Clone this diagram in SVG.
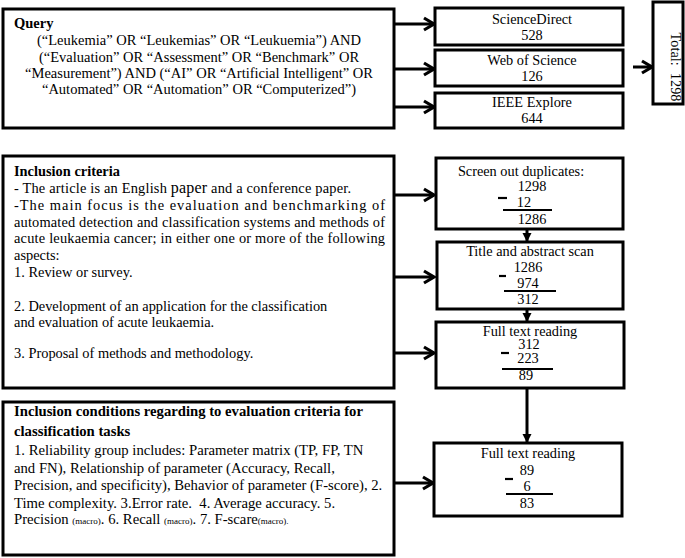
<svg xmlns="http://www.w3.org/2000/svg" width="685" height="558" viewBox="0 0 685 558" font-family="'Liberation Serif', 'Times New Roman', Tinos, 'Nimbus Roman', 'DejaVu Serif', serif">
<defs>
<marker id="chev" markerUnits="userSpaceOnUse" markerWidth="14" markerHeight="16" refX="11" refY="7" orient="auto" overflow="visible">
<path d="M1,1 L11,7 L1,13" fill="none" stroke="#000" stroke-width="3.2"/>
</marker>
<marker id="tri" markerUnits="userSpaceOnUse" markerWidth="10" markerHeight="10" refX="8" refY="4.5" orient="auto" overflow="visible">
<path d="M0,0 L9,4.5 L0,9 Z" fill="#000"/>
</marker>
<style>
.box{fill:#fff;stroke:#000;stroke-width:3}
.t{font-size:14.3px;fill:#000}
.q{font-size:14.5px}
.ic{font-size:14.4px}
.c{text-anchor:middle}
.b{font-weight:bold}
.big{font-size:14.7px}
.con{fill:none;stroke:#000;stroke-width:3}
.rule{stroke:#000;stroke-width:2.2}
.sub{font-size:9px}
</style>
</defs>

<g id="connectors">
<line class="con" x1="394" y1="24" x2="434" y2="24" marker-end="url(#chev)"/>
<line class="con" x1="394" y1="69" x2="434" y2="69" marker-end="url(#chev)"/>
<line class="con" x1="394" y1="107" x2="434" y2="107" marker-end="url(#chev)"/>
<line class="con" x1="633" y1="67" x2="652" y2="67" marker-end="url(#chev)"/>
<line class="con" x1="394" y1="195" x2="434" y2="195" marker-end="url(#chev)"/>
<line class="con" x1="394" y1="277" x2="434" y2="277" marker-end="url(#chev)"/>
<line class="con" x1="394" y1="353" x2="434" y2="353" marker-end="url(#chev)"/>
<line class="con" x1="394" y1="483" x2="433" y2="483" marker-end="url(#chev)"/>
<line class="con" x1="527" y1="230" x2="527" y2="241" stroke-width="2" marker-end="url(#tri)"/>
<line class="con" x1="527" y1="310" x2="527" y2="321" stroke-width="2" marker-end="url(#tri)"/>
<line class="con" x1="527" y1="389" x2="527" y2="442" stroke-width="2" marker-end="url(#tri)"/>
</g>

<g id="query">
<rect class="box" x="3" y="9" width="391" height="119"/>
<text class="t q b" x="14" y="28">Query</text>
<text class="t q c" x="199" y="45">(“Leukemia” OR “Leukemias” OR “Leukuemia”) AND</text>
<text class="t q c" x="199" y="61.5">(“Evaluation” OR “Assessment” OR “Benchmark” OR</text>
<text class="t q c" x="199" y="78">“Measurement”) AND (“AI” OR “Artificial Intelligent” OR</text>
<text class="t q c" x="199" y="94">“Automated” OR “Automation” OR “Computerized”)</text>
</g>

<g id="sciencedirect">
<rect class="box" x="435" y="8" width="188" height="37"/>
<text class="t c" x="532" y="24">ScienceDirect</text>
<text class="t c" x="532" y="40">528</text>
</g>

<g id="wos">
<rect class="box" x="435" y="50" width="188" height="36"/>
<text class="t c" x="532" y="65">Web of Science</text>
<text class="t c" x="532" y="81">126</text>
</g>

<g id="ieee">
<rect class="box" x="435" y="93" width="188" height="35"/>
<text class="t c" x="532" y="107">IEEE Explore</text>
<text class="t c" x="532" y="123">644</text>
</g>

<g id="total">
<rect class="box" x="653" y="2" width="30" height="102"/>
<text class="t c" transform="translate(671,67) rotate(90)" xml:space="preserve">Total:  1298</text>
</g>

<g id="inclusion-criteria">
<rect class="box" x="3" y="156" width="391" height="232"/>
<text class="t ic b" x="14" y="176">Inclusion criteria</text>
<text class="t ic" x="14" y="193" textLength="337" lengthAdjust="spacing">- The article is an English <tspan font-size="16">paper</tspan> and a conference paper.</text>
<text class="t ic" x="14" y="210" textLength="371" lengthAdjust="spacing">-The main focus is the evaluation and benchmarking of</text>
<text class="t ic" x="14" y="226.5" textLength="371" lengthAdjust="spacing">automated detection and classification systems and methods of</text>
<text class="t ic" x="14" y="243" textLength="371" lengthAdjust="spacing">acute leukaemia cancer; in either one or more of the following</text>
<text class="t ic" x="14" y="260">aspects:</text>
<text class="t ic" x="14" y="277">1. Review or survey.</text>
<text class="t ic" x="14" y="311">2. Development of an application for the classification</text>
<text class="t ic" x="14" y="327">and evaluation of acute leukaemia.</text>
<text class="t ic" x="14" y="358">3. Proposal of methods and methodology.</text>
</g>

<g id="screen-duplicates">
<rect class="box" x="436" y="158" width="187" height="71"/>
<text class="t c" x="521" y="176">Screen out duplicates:</text>
<text class="t c" x="532" y="191">1298</text>
<line class="rule" x1="498" y1="198" x2="507" y2="198" stroke-width="3"/>
<text class="t c" x="524" y="207">12</text>
<line class="rule" x1="503" y1="210" x2="552" y2="210"/>
<text class="t c" x="532" y="224">1286</text>
</g>

<g id="title-abstract">
<rect class="box" x="437" y="242" width="186" height="67"/>
<text class="t c" x="530" y="256">Title and abstract scan</text>
<text class="t c" x="528" y="271.5">1286</text>
<line class="rule" x1="499" y1="276" x2="506" y2="276" stroke-width="3"/>
<text class="t c" x="528" y="287.5">974</text>
<line class="rule" x1="504" y1="291" x2="556" y2="291"/>
<text class="t c" x="528" y="304">312</text>
</g>

<g id="full-text-1">
<rect class="box" x="436" y="322" width="188" height="66"/>
<text class="t c" x="530" y="335.5">Full text reading</text>
<text class="t c" x="529" y="349">312</text>
<line class="rule" x1="501" y1="353" x2="509" y2="353" stroke-width="3"/>
<text class="t c" x="528" y="363">223</text>
<line class="rule" x1="502" y1="369" x2="553" y2="369"/>
<text class="t c" x="526" y="380">89</text>
</g>

<g id="inclusion-conditions">
<rect class="box" x="3" y="402" width="391" height="153"/>
<text class="t b big" x="14" y="416">Inclusion conditions regarding to evaluation criteria for</text>
<text class="t b big" x="14" y="436">classification tasks</text>
<text class="t big" x="14" y="455">1. Reliability group includes: Parameter matrix (TP, FP, TN</text>
<text class="t big" x="14" y="472.5">and FN), Relationship of parameter (Accuracy, Recall,</text>
<text class="t big" x="14" y="490">Precision, and specificity), Behavior of parameter (F-score), 2.</text>
<text class="t big" x="14" y="507.5" xml:space="preserve">Time complexity. 3.Error rate.  4. Average accuracy. 5.</text>
<text class="t big" x="14" y="524">Precision <tspan class="sub">(macro)</tspan>. 6. Recall <tspan class="sub">(macro)</tspan>. 7. F-scare<tspan class="sub">(macro).</tspan></text>
</g>

<g id="full-text-2">
<rect class="box" x="434" y="443" width="188" height="73"/>
<text class="t c" x="528" y="458">Full text reading</text>
<text class="t c" x="527" y="475">89</text>
<line class="rule" x1="505" y1="479" x2="513" y2="479" stroke-width="3"/>
<text class="t c" x="527" y="491">6</text>
<line class="rule" x1="506" y1="494" x2="553" y2="494"/>
<text class="t c" x="527" y="508">83</text>
</g>
</svg>
